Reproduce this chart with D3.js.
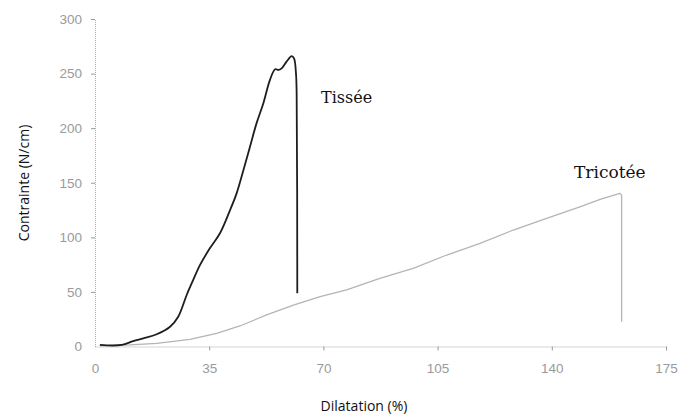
<!DOCTYPE html>
<html>
<head>
<meta charset="utf-8">
<script src="https://cdn.jsdelivr.net/npm/d3@7"></script>
<style>
  html, body { margin: 0; padding: 0; background: #fff; }
  svg { display: block; }
</style>
</head>
<body>
<svg id="chart" width="682" height="416"></svg>
<script>
// Axis ticks
const xTicks = [0, 35, 70, 105, 140, 175];
const yTicks = [0, 50, 100, 150, 200, 250, 300];

// Woven fabric (Tissée): strain (%) and stress (N/cm)
const tisseeDil = [1.5, 8.2, 11.7, 14.8, 18.9, 23, 25.5, 28.1, 30.1, 32.2, 35.2, 38.3, 41.4, 43.4,
  45.5, 47.5, 49.5, 51.6, 53.6, 55.2, 56.2, 57.2, 58.7, 60.3, 61, 61.6, 61.8, 62];
const tisseeStress = [1.4, 1.4, 5, 7.5, 11.2, 18.1, 27.3, 47.2, 61, 74.7, 90, 103.7, 125, 140.3,
  161.7, 183, 204.4, 222.8, 244, 254, 253.3, 254.8, 261, 266, 264, 250, 232, 48.7];

// Knitted fabric (Tricotée)
const tricoteeDil = [1.5, 10.7, 18.9, 29.1, 37.3, 44.4, 52.6, 60.8, 69, 77.1, 87.3, 97.5, 107.8,
  118, 128.2, 138.4, 148.6, 154.8, 160.9, 161.4, 161.4];
const tricoteeStress = [0.5, 1.4, 2.9, 6.6, 12, 18.8, 28.9, 38, 45.6, 51.8, 62.5, 71.6, 83.8,
  94.5, 106.7, 117.4, 128, 134.8, 140.3, 138.5, 22.7];

const svg = d3.select("#chart");

const x = d3.scaleLinear().domain([0, 175]).range([95, 666]);
const y = d3.scaleLinear().domain([0, 300]).range([346.5, 19]);

const tickFont = "'Liberation Sans', Arial, sans-serif";

// Y axis
const gy = svg.append("g")
  .attr("transform", `translate(${x(0)},0)`)
  .call(d3.axisLeft(y).tickValues(yTicks).tickSize(4).tickSizeOuter(0).tickPadding(9));
gy.select(".domain").attr("stroke", "#aaa").attr("stroke-dasharray", "1,1");
gy.selectAll(".tick line").attr("stroke", "#999");
gy.selectAll(".tick text")
  .attr("fill", "#9a9a9a").style("font-family", tickFont).style("font-size", "13.5px");

// X axis
const gx = svg.append("g")
  .attr("transform", `translate(0,${y(0)})`)
  .call(d3.axisBottom(x).tickValues(xTicks).tickSize(4).tickSizeOuter(0).tickPadding(13));
gx.select(".domain").attr("stroke", "#aaa").attr("stroke-dasharray", "1,1");
gx.selectAll(".tick line").attr("stroke", "#999");
gx.selectAll(".tick text")
  .attr("fill", "#9a9a9a").style("font-family", tickFont).style("font-size", "13.5px");
// no tick mark at the origin
gx.selectAll(".tick").filter(d => d === 0).select("line").remove();
gy.selectAll(".tick").filter(d => d === 0).select("line").remove();

// Curves: smooth rise for the woven fabric, straight segments for the knit
const smoothLine = d3.line()
  .x(d => x(d[0])).y(d => y(d[1]))
  .curve(d3.curveCatmullRom.alpha(0.5));
const straightLine = d3.line()
  .x(d => x(d[0])).y(d => y(d[1]));

svg.append("path")
  .datum(d3.zip(tricoteeDil, tricoteeStress))
  .attr("fill", "none")
  .attr("stroke", "#b4b4b4")
  .attr("stroke-width", 1.3)
  .attr("stroke-linejoin", "round")
  .attr("d", straightLine);

svg.append("path")
  .datum(d3.zip(tisseeDil, tisseeStress))
  .attr("fill", "none")
  .attr("stroke", "#1e1e1e")
  .attr("stroke-width", 1.8)
  .attr("stroke-linejoin", "round")
  .attr("d", smoothLine);

// Curve labels
const serif = "'DejaVu Serif', Georgia, serif";
svg.append("text")
  .attr("x", 321).attr("y", 103)
  .style("font-family", serif).style("font-size", "16px").attr("fill", "#111")
  .text("Tissée");
svg.append("text")
  .attr("x", 574).attr("y", 178)
  .style("font-family", serif).style("font-size", "17px").attr("fill", "#111")
  .text("Tricotée");

// Axis titles
const sans = "'Open Sans', 'Noto Sans', sans-serif";
svg.append("text")
  .attr("x", 364).attr("y", 411)
  .attr("text-anchor", "middle")
  .style("font-family", sans).style("font-size", "14px").attr("fill", "#111")
  .text("Dilatation (%)");
svg.append("text")
  .attr("transform", "translate(29,183) rotate(-90)")
  .attr("text-anchor", "middle")
  .style("font-family", sans).style("font-size", "14px").attr("fill", "#111")
  .text("Contrainte (N/cm)");
</script>
</body>
</html>
